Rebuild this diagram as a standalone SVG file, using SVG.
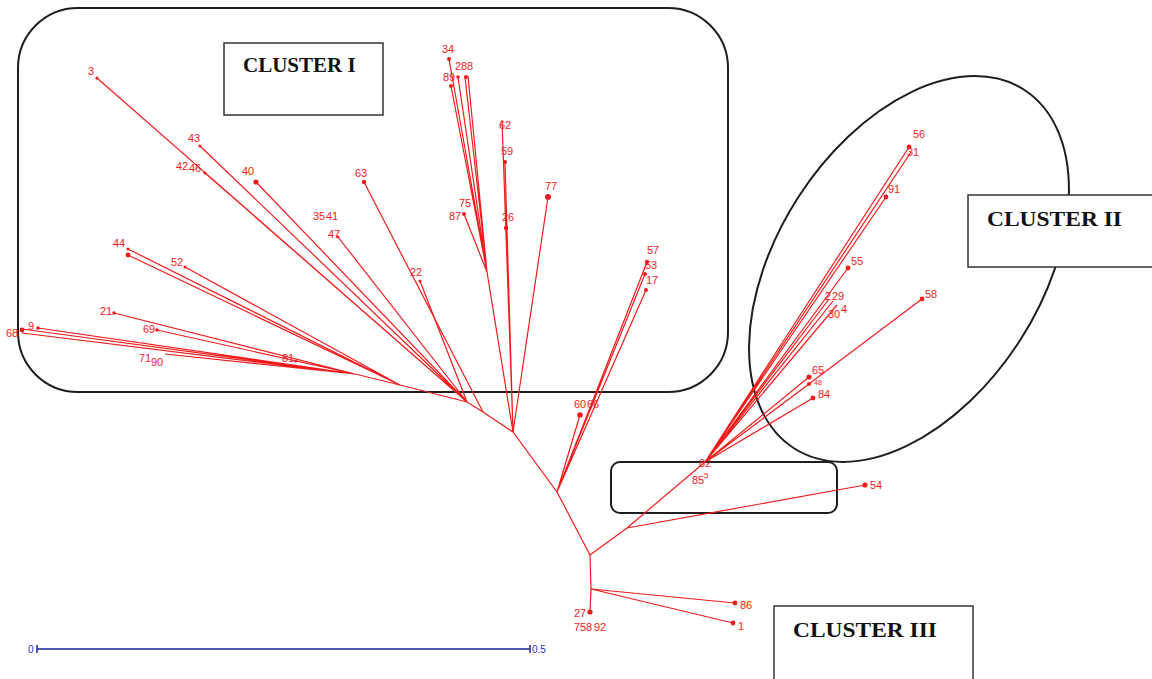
<svg xmlns="http://www.w3.org/2000/svg" width="1152" height="679" viewBox="0 0 1152 679">
<style>
.fr{fill:none;stroke:#1e1e1e;stroke-width:2}
.bx{fill:#fff;stroke:#333;stroke-width:1.5}
.ct{font-family:"Liberation Serif","Times New Roman",serif;font-weight:bold;font-size:21px;fill:#111}
.e{stroke:#f01c1c;stroke-width:1.2;fill:none}
.d{fill:#f01c1c}
.l{font-family:"Liberation Sans",Arial,sans-serif;font-size:11px;fill:#f01c1c}
.s{font-size:7px}
.sb{stroke:#22229a;stroke-width:1.5;fill:none}
.st{font-family:"Liberation Sans",Arial,sans-serif;font-size:10px;fill:#3030b0}
</style>
<rect width="1152" height="679" fill="#fff"/>
<g id="frames">
<rect class="fr" x="18" y="8" width="710" height="384" rx="60"/>
<ellipse class="fr" cx="909" cy="269" rx="213" ry="132" transform="rotate(-57.3 909 269)"/>
<rect class="fr" x="611" y="462" width="226" height="51" rx="9"/>
</g>
<g id="connectors">
<path class="e" d="M590,555L557,492L513,432L483,412L467,402L400,385L355,374M590,555L591,589M590,555L627,528L705,462M513,432L487,272"/>
<path class="e" d="M557,492L580,415M557,492L647,262M557,492L645,274M557,492L646,290"/>
<path class="e" d="M513,432L548,197M513,432L502,120M513,432L505,162M513,432L506,228"/>
<path class="e" d="M487,272L449,59M487,272L451,86M487,272L458,77M487,272L465,77M487,272L468,76M487,272L474,205M487,272L464,214"/>
<path class="e" d="M483,412L364,182"/>
<path class="e" d="M467,402L420,281M467,402L97,78M467,402L200,146M467,402L205,173M467,402L256,182M467,402L338,237"/>
<path class="e" d="M400,385L128,249M400,385L128,255M400,385L185,267"/>
<path class="e" d="M355,374L296,361M355,374L114,313M355,374L157,330M355,374L38,328M355,374L22,329M355,374L22,333M355,374L165,354"/>
<path class="e" d="M591,589L735,603M591,589L733,623M591,589L590,612"/>
<path class="e" d="M627,528L865,485"/>
<path class="e" d="M705,462L909,147M705,462L911,152M705,462L886,197M705,462L848,268M705,462L829,299M705,462L833,301M705,462L837,305M705,462L922,299M705,462L809,377M705,462L809,384M705,462L813,398"/>
</g>
<g id="n3"><circle class="d" cx="97" cy="78" r="1.6"/><text class="l" x="88" y="75">3</text></g>
<g id="n43"><circle class="d" cx="200" cy="146" r="1.6"/><text class="l" x="188" y="142">43</text></g>
<g id="n42"><text class="l" x="176" y="170">42</text></g>
<g id="n46"><circle class="d" cx="205" cy="173" r="1.6"/><text class="l" x="189" y="172">46</text></g>
<g id="n40"><circle class="d" cx="256" cy="182" r="2.6"/><text class="l" x="242" y="175">40</text></g>
<g id="n63"><circle class="d" cx="364" cy="182" r="2.2"/><text class="l" x="355" y="177">63</text></g>
<g id="n35"><text class="l" x="313" y="220">35</text></g>
<g id="n41"><text class="l" x="326" y="220">41</text></g>
<g id="n47"><circle class="d" cx="338" cy="237" r="1.4"/><text class="l" x="328" y="238">47</text></g>
<g id="n44"><circle class="d" cx="128" cy="249" r="1.6"/><circle class="d" cx="128" cy="255" r="2.4"/><text class="l" x="113" y="247">44</text></g>
<g id="n52"><circle class="d" cx="185" cy="267" r="1.6"/><text class="l" x="171" y="266">52</text></g>
<g id="n21"><circle class="d" cx="114" cy="313" r="1.8"/><text class="l" x="100" y="315">21</text></g>
<g id="n69"><circle class="d" cx="157" cy="330" r="1.8"/><text class="l" x="143" y="333">69</text></g>
<g id="n9"><circle class="d" cx="38" cy="328" r="1.8"/><text class="l" x="28" y="330">9</text></g>
<g id="n68"><circle class="d" cx="22" cy="330" r="2.4"/><text class="l" x="6" y="337">68</text></g>
<g id="n71"><text class="l" x="139" y="362">71</text></g>
<g id="n90"><text class="l" x="151" y="366">90</text></g>
<g id="n81"><circle class="d" cx="296" cy="361" r="1.6"/><text class="l" x="282" y="362">81</text></g>
<g id="n22"><circle class="d" cx="420" cy="281" r="1.6"/><text class="l" x="410" y="276">22</text></g>
<g id="n34"><circle class="d" cx="449" cy="59" r="2"/><text class="l" x="442" y="53">34</text></g>
<g id="n89"><circle class="d" cx="451" cy="86" r="2"/><text class="l" x="443" y="81">89</text></g>
<g id="n28"><circle class="d" cx="458" cy="77" r="1.8"/><text class="l" x="455" y="70">28</text></g>
<g id="n8"><circle class="d" cx="466" cy="77" r="2"/><text class="l" x="467" y="70">8</text></g>
<g id="n62"><text class="l" x="499" y="129">62</text></g>
<g id="n59"><circle class="d" cx="505" cy="162" r="2"/><text class="l" x="501" y="155">59</text></g>
<g id="n77"><circle class="d" cx="548" cy="197" r="3"/><text class="l" x="545" y="190">77</text></g>
<g id="n75"><text class="l" x="459" y="207">75</text></g>
<g id="n87"><circle class="d" cx="464" cy="214" r="2"/><text class="l" x="449" y="220">87</text></g>
<g id="n26"><circle class="d" cx="506" cy="228" r="2.2"/><text class="l" x="502" y="221">26</text></g>
<g id="n57"><circle class="d" cx="647" cy="262" r="2.2"/><text class="l" x="647" y="254">57</text></g>
<g id="n53"><circle class="d" cx="645" cy="274" r="2"/><text class="l" x="645" y="269">53</text></g>
<g id="n17"><circle class="d" cx="646" cy="290" r="2"/><text class="l" x="646" y="284">17</text></g>
<g id="n60"><circle class="d" cx="580" cy="415" r="2.8"/><text class="l" x="574" y="408">60</text></g>
<g id="n66"><text class="l" x="587" y="408">66</text></g>
<g id="n56"><circle class="d" cx="909" cy="147" r="2.4"/><text class="l" x="913" y="138">56</text></g>
<g id="n31"><text class="l" x="907" y="156">31</text></g>
<g id="n91"><circle class="d" cx="886" cy="197" r="2.4"/><text class="l" x="888" y="193">91</text></g>
<g id="n55"><circle class="d" cx="848" cy="268" r="2.4"/><text class="l" x="851" y="265">55</text></g>
<g id="n2"><text class="l" x="825" y="300">2</text></g>
<g id="n29"><text class="l" x="832" y="300">29</text></g>
<g id="n30"><text class="l" x="828" y="318">30</text></g>
<g id="n4"><text class="l" x="841" y="313">4</text></g>
<g id="n58"><circle class="d" cx="922" cy="299" r="2.4"/><text class="l" x="925" y="298">58</text></g>
<g id="n65"><circle class="d" cx="809" cy="377" r="2.6"/><text class="l" x="812" y="374">65</text></g>
<g id="n48"><circle class="d" cx="809" cy="384" r="2"/><text class="l s" x="814" y="385">48</text></g>
<g id="n84"><circle class="d" cx="813" cy="398" r="2.4"/><text class="l" x="818" y="398">84</text></g>
<g id="n82"><text class="l" x="699" y="467">82</text></g>
<g id="n85"><text class="l" x="692" y="484">85</text></g>
<g id="n5"><text class="l" x="704" y="478" style="font-size:8px">5</text></g>
<g id="n54"><circle class="d" cx="865" cy="485" r="2.6"/><text class="l" x="870" y="489">54</text></g>
<g id="n86"><circle class="d" cx="735" cy="603" r="2.4"/><text class="l" x="740" y="609">86</text></g>
<g id="n1"><circle class="d" cx="733" cy="623" r="2.4"/><text class="l" x="738" y="630">1</text></g>
<g id="n27"><circle class="d" cx="590" cy="612" r="2.6"/><text class="l" x="574" y="617">27</text></g>
<g id="n758"><text class="l" x="574" y="631">75</text><text class="l" x="586" y="631">8</text><text class="l" x="594" y="631">92</text></g>
<g id="scale">
<path class="sb" d="M37,649H530M37,645V653M530,645V653"/>
<text class="st" x="28" y="653">0</text>
<text class="st" x="532" y="653">0.5</text>
</g>
<g id="clusterI"><rect class="bx" x="224" y="43" width="159" height="72"/><text class="ct" x="243" y="72">CLUSTER I</text></g>
<g id="clusterII"><rect class="bx" x="968" y="195" width="190" height="72"/><text class="ct" x="987" y="226" textLength="135" lengthAdjust="spacingAndGlyphs">CLUSTER II</text></g>
<g id="clusterIII"><rect class="bx" x="774" y="606" width="199" height="75"/><text class="ct" x="793" y="637" textLength="144" lengthAdjust="spacingAndGlyphs">CLUSTER III</text></g>
</svg>
